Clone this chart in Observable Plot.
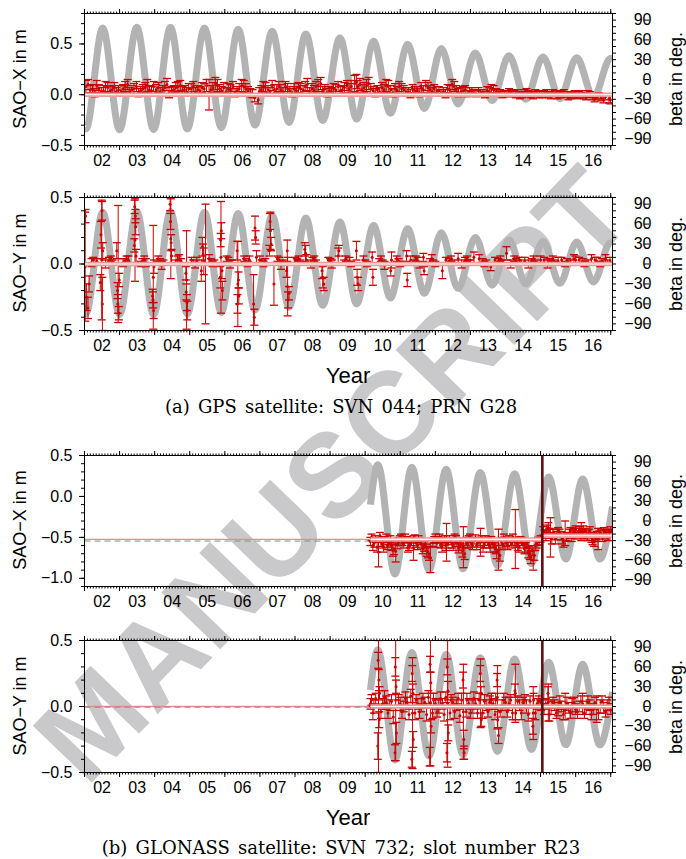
<!DOCTYPE html>
<html><head><meta charset="utf-8">
<script src="https://cdn.jsdelivr.net/npm/d3@7"></script>
<script src="https://cdn.jsdelivr.net/npm/@observablehq/plot@0.6"></script>
<style>
body{margin:0;background:#fff;}
#root{position:relative;width:686px;height:859px;overflow:hidden;font-family:'Liberation Sans',Arial,Helvetica,sans-serif;}
.panel{position:absolute;left:0;z-index:2;}
#wm{position:absolute;left:0;top:0;z-index:1;}
#lab{position:absolute;left:0;top:0;z-index:3;pointer-events:none;}
</style></head><body><div id="root">
<svg id="wm" width="686" height="859"><text x="332" y="474" transform="rotate(-46 332 474)" text-anchor="middle" dominant-baseline="central" style="font-family:'Liberation Sans',Arial,Helvetica,sans-serif;font-weight:bold;font-size:119px" fill="#c9c9cb">MANUSCRIPT</text></svg>
</div>
<script>
// ---------- tick labels ----------
const years = [2002,2003,2004,2005,2006,2007,2008,2009,2010,2011,2012,2013,2014,2015,2016,2017];
const yearLabels = ["02","03","04","05","06","07","08","09","10","11","12","13","14","15","16"];
const betaMajor = [-90,-60,-30,0,30,60,90];

// ---------- beta angle extremes (t, deg) ----------
const gpsBeta = [[2002.00,-74],[2002.04,-75],[2002.52,78],[2003.00,-76],[2003.49,79],[2003.97,-76],[2004.45,79],[2004.93,-75],[2005.42,78],[2005.90,-73],[2006.38,76],[2006.86,-69],[2007.35,73],[2007.83,-65],[2008.31,69],[2008.79,-62],[2009.28,63],[2009.76,-60],[2010.24,58],[2010.72,-51],[2011.21,53],[2011.69,-44],[2012.17,47],[2012.65,-37],[2013.14,40],[2013.62,-32],[2014.10,36],[2014.58,-30],[2015.07,34],[2015.55,-29],[2016.03,33],[2016.51,-27],[2016.99,32],[2017.05,31]];
const gloBeta = [[2010.15,25],[2010.36,86],[2010.85,-81],[2011.33,82],[2011.82,-75],[2012.31,79],[2012.79,-73],[2013.28,74],[2013.77,-68],[2014.26,72],[2014.74,-65],[2015.23,67],[2015.72,-58],[2016.20,64],[2016.69,-58],[2017.05,22]];

// ---------- SAO estimates [t, value m, sigma m] ----------
const gpsX = [
[2002.04,.08,.06],[2002.16,.05,.04],[2002.29,.02,.04],[2002.41,.06,.04],[2002.54,.04,.05],[2002.66,.07,.05],[2002.79,.05,.04],[2002.91,.03,.04],
[2003.04,.04,.05],[2003.16,.08,.05],[2003.29,.03,.04],[2003.41,.06,.05],[2003.54,.02,.04],[2003.66,.06,.04],[2003.79,.09,.06],[2003.91,.04,.04],
[2004.04,.05,.05],[2004.16,.03,.04],[2004.29,.07,.06],[2004.41,.02,.05],[2004.54,.05,.04],[2004.66,.08,.05],[2004.79,.04,.04],[2004.91,.03,.04],
[2005.04,.06,.05],[2005.16,.03,.04],[2005.29,.04,.04],[2005.41,.06,.05],[2005.55,.0,.15],[2005.66,.07,.05],[2005.79,.09,.06],[2005.91,.04,.04],
[2006.04,.03,.04],[2006.16,.05,.05],[2006.29,.02,.04],[2006.41,.06,.05],[2006.54,.08,.06],[2006.66,.04,.04],[2006.79,.01,.04],[2006.95,-.05,.04],
[2007.04,.05,.04],[2007.16,.07,.05],[2007.29,.03,.04],[2007.41,.05,.05],[2007.54,.08,.05],[2007.66,.03,.04],[2007.79,.06,.05],[2007.91,.02,.04],
[2008.04,.04,.04],[2008.16,.06,.05],[2008.29,.08,.05],[2008.41,.03,.04],[2008.54,.05,.04],[2008.66,.09,.06],[2008.79,.04,.04],[2008.91,.02,.04],
[2009.04,.03,.04],[2009.16,.05,.05],[2009.29,.04,.04],[2009.41,.07,.05],[2009.54,.06,.05],[2009.70,.11,.08],[2009.79,.08,.06],[2009.91,.05,.05],
[2010.04,.09,.06],[2010.16,.06,.05],[2010.29,.02,.04],[2010.41,.03,.04],[2010.54,.05,.05],[2010.66,.08,.06],[2010.79,.02,.04],[2010.91,.04,.04],
[2011.04,.06,.05],[2011.16,.03,.04],[2011.29,.01,.04],[2011.41,.04,.04],[2011.54,.02,.04],[2011.66,.05,.04],[2011.79,.07,.05],[2011.91,.03,.04],
[2012.04,.04,.04],[2012.16,.02,.03],[2012.29,.01,.04],[2012.41,.05,.04],[2012.54,.08,.05],[2012.66,.02,.04],[2012.79,.04,.04],[2012.91,.01,.03],
[2013.04,.03,.04],[2013.16,.01,.03],[2013.29,.02,.03],[2013.41,.0,.03],[2013.54,.03,.04],[2013.66,.05,.04],[2013.79,.02,.03],[2013.91,.0,.03],
[2014.04,.01,.03],[2014.16,.02,.03],[2014.29,.0,.03],[2014.41,-.01,.03],[2014.54,.02,.03],[2014.66,.01,.03],[2014.79,-.01,.03],[2014.91,.01,.03],
[2015.04,.0,.03],[2015.16,.02,.03],[2015.29,-.01,.03],[2015.41,.01,.03],[2015.54,.0,.03],[2015.66,.02,.03],[2015.79,-.02,.03],[2015.91,.0,.03],
[2016.04,-.01,.03],[2016.16,.01,.03],[2016.29,-.02,.03],[2016.41,.0,.03],[2016.54,-.03,.04],[2016.66,-.01,.03],[2016.79,-.04,.04],[2016.95,-.04,.04],
[2002.10,.10,.05],[2002.23,.06,.04],[2002.35,.09,.05],[2002.48,.03,.04],[2002.60,.08,.05],[2002.73,.04,.04],[2002.85,.07,.05],[2002.97,.05,.04],
[2003.10,.06,.04],[2003.23,.10,.05],[2003.35,.05,.04],[2003.48,.08,.05],[2003.60,.04,.04],[2003.73,.07,.05],[2003.85,.05,.04],[2003.97,.08,.05],
[2004.10,.07,.05],[2004.23,.05,.04],[2004.35,.10,.06],[2004.48,.04,.04],[2004.60,.07,.05],[2004.73,.09,.05],[2004.85,.05,.04],[2004.97,.06,.05],
[2005.10,.08,.05],[2005.23,.05,.04],[2005.35,.07,.05],[2005.48,.09,.06],[2005.60,.05,.04],[2005.73,.11,.06],[2005.85,.06,.04],[2005.97,.07,.05],
[2006.10,.06,.05],[2006.23,.08,.05],[2006.35,.04,.04],[2006.48,.09,.06],[2006.60,.06,.05],[2006.73,.02,.04],[2006.85,-.03,.04],[2006.98,.03,.04],
[2007.10,.08,.05],[2007.23,.05,.04],[2007.35,.09,.05],[2007.48,.06,.04],[2007.60,.05,.05],[2007.73,.08,.05],[2007.85,.04,.04],[2007.98,.06,.05],
[2008.10,.07,.05],[2008.23,.05,.04],[2008.35,.10,.06],[2008.48,.06,.05],[2008.60,.08,.05],[2008.73,.11,.06],[2008.85,.06,.04],[2008.98,.04,.04],
[2009.10,.06,.05],[2009.23,.08,.05],[2009.35,.05,.04],[2009.48,.09,.05],[2009.60,.08,.06],[2009.75,.13,.07],[2009.85,.10,.06],[2009.97,.07,.05],
[2010.10,.11,.06],[2010.23,.04,.04],[2010.35,.05,.04],[2010.48,.07,.05],[2010.60,.09,.06],[2010.73,.05,.04],[2010.85,.06,.05],[2010.97,.08,.05],
[2011.10,.05,.04],[2011.23,.03,.04],[2011.35,.06,.04],[2011.48,.04,.04],[2011.60,.07,.05],[2011.73,.09,.05],[2011.85,.05,.04],[2011.97,.06,.04],
[2012.10,.04,.04],[2012.23,.03,.04],[2012.35,.06,.04],[2012.48,.10,.05],[2012.60,.05,.04],[2012.73,.03,.04],[2012.85,.05,.04],[2012.97,.03,.04],
[2013.10,.02,.03],[2013.23,.04,.03],[2013.35,.02,.03],[2013.48,.04,.04],[2013.60,.06,.04],[2013.73,.03,.03],[2013.85,.02,.03],[2013.97,.01,.03],
[2014.10,.03,.03],[2014.23,.01,.03],[2014.35,.02,.03],[2014.48,.0,.03],[2014.60,.03,.03],[2014.73,.0,.03],[2014.85,.02,.03],[2014.97,.0,.03],
[2015.10,.01,.03],[2015.23,.0,.03],[2015.35,.02,.03],[2015.48,-.01,.03],[2015.60,.01,.03],[2015.73,.0,.03],[2015.85,-.01,.03],[2015.97,.01,.03],
[2016.10,.0,.03],[2016.23,-.01,.03],[2016.35,.01,.03],[2016.48,-.02,.03],[2016.60,-.02,.03],[2016.73,-.03,.03],[2016.85,-.02,.03],[2016.99,-.05,.04]
];
const gpsY = [
[2002.02,-.02,.41],[2002.03,.36,.05],[2002.06,-.25,.1],[2002.10,-.33,.08],[2002.13,-.15,.06],
[2002.49,.03,.45],[2002.47,.22,.1],[2002.50,.40,.07],[2002.52,.10,.06],[2002.45,-.14,.06],[2002.51,-.30,.2],
[2002.96,.0,.44],[2002.95,-.30,.07],[2002.98,-.37,.05],[2002.94,-.20,.06],[2002.99,-.12,.05],[2002.92,.10,.06],
[2003.44,.18,.31],[2003.43,.43,.05],[2003.45,.36,.05],[2003.46,.28,.06],[2003.42,.14,.05],[2003.47,.06,.05],
[2003.96,-.10,.39],[2003.95,-.27,.06],[2003.97,-.35,.06],[2003.98,-.02,.05],[2003.94,-.24,.05],
[2004.46,.19,.30],[2004.45,.32,.06],[2004.47,.16,.06],[2004.48,.06,.05],[2004.44,.45,.05],
[2004.91,-.12,.37],[2004.90,-.21,.06],[2004.92,-.29,.06],[2004.93,-.35,.07],[2004.89,-.07,.05],
[2005.36,.13,.07],[2005.38,.07,.08],[2005.40,.02,.1],[2005.33,-.05,.08],[2005.45,.0,.45],
[2005.89,.05,.42],[2005.90,.25,.06],[2005.88,.18,.05],[2005.92,-.05,.06],[2005.87,-.10,.08],[2005.93,-.20,.07],
[2006.37,-.15,.32],[2006.36,-.30,.07],[2006.39,-.12,.06],[2006.40,-.24,.06],[2006.35,.10,.07],
[2006.82,-.30,.22],[2006.86,.27,.09],[2006.88,.20,.05],[2006.84,-.40,.06],[2006.90,.05,.05],
[2007.30,.25,.14],[2007.29,.32,.06],[2007.32,.15,.05],[2007.27,.10,.04],[2007.40,-.15,.16],
[2007.79,-.17,.22],[2007.80,-.27,.06],[2007.83,-.22,.05],[2007.78,.10,.08],[2007.76,-.05,.05],
[2008.30,.08,.06],[2008.32,.03,.04],[2008.28,.11,.05],
[2008.79,-.10,.08],[2008.82,-.15,.05],[2008.77,-.05,.06],
[2009.23,.06,.06],[2009.25,.10,.04],
[2009.75,.10,.07],[2009.77,-.10,.06],[2009.80,-.15,.05],
[2010.22,-.10,.06],[2010.20,.05,.04],
[2010.75,.03,.06],[2010.73,-.05,.04],
[2011.18,.06,.04],[2011.20,-.12,.05],
[2011.66,.05,.03],[2011.68,-.05,.03],
[2012.20,-.05,.06],[2012.65,.04,.04],
[2013.10,.05,.04],[2013.58,-.02,.03],
[2014.03,.08,.05],[2014.55,.02,.03],[2015.00,.03,.03],[2015.50,.02,.03],[2016.00,.03,.03],[2016.60,.02,.03],
[2002.20,.01,.03],[2002.35,.02,.02],[2002.70,.02,.03],[2002.80,.01,.02],[2003.15,.02,.02],[2003.25,.03,.03],[2003.65,.02,.02],[2003.75,.01,.03],
[2004.15,.02,.02],[2004.25,.01,.02],[2004.65,.03,.03],[2004.75,.02,.02],[2005.10,.01,.02],[2005.20,.02,.03],[2005.60,.02,.02],[2005.70,.01,.02],
[2006.10,.02,.03],[2006.20,.01,.02],[2006.60,.02,.02],[2006.70,.03,.03],[2007.05,.01,.02],[2007.15,.02,.02],[2007.55,.02,.03],[2007.65,.01,.02],
[2008.05,.02,.02],[2008.15,.01,.02],[2008.50,.02,.03],[2008.60,.01,.02],[2009.00,.02,.02],[2009.40,.01,.02],[2009.55,.02,.03],[2010.00,.01,.02],
[2010.40,.02,.02],[2010.50,.01,.02],[2010.95,.02,.02],[2011.40,.01,.02],[2011.50,.02,.03],[2011.85,.02,.02],[2011.95,.01,.02],[2012.40,.02,.02],
[2012.55,.01,.02],[2012.85,.02,.03],[2012.95,.01,.02],[2013.35,.02,.02],[2013.45,.01,.02],[2013.80,.02,.02],[2013.90,.01,.02],[2014.30,.02,.02],
[2014.45,.01,.02],[2014.75,.02,.02],[2014.85,.01,.02],[2015.25,.02,.02],[2015.40,.01,.02],[2015.75,.02,.02],[2015.85,.01,.02],[2016.20,.02,.02],
[2016.35,.01,.02],[2016.75,.02,.02],[2016.90,.01,.02],
[2002.25,.03,.02],[2002.60,.0,.03],[2002.75,.04,.02],[2003.10,.01,.03],[2003.20,.04,.02],[2003.60,.0,.02],[2003.70,.03,.03],[2004.10,.04,.02],
[2004.20,-.01,.03],[2004.60,.01,.02],[2004.70,.04,.03],[2005.05,.03,.02],[2005.15,-.01,.02],[2005.55,.04,.03],[2005.65,.0,.02],[2006.05,.04,.02],
[2006.15,.0,.03],[2006.55,.04,.02],[2006.65,.0,.02],[2007.00,.03,.03],[2007.10,.0,.02],[2007.50,.04,.02],[2007.60,-.01,.03],[2008.00,.03,.02],
[2008.10,.04,.02],[2008.45,.0,.03],[2008.55,.04,.02],[2008.95,.03,.02],[2009.05,.0,.03],[2009.45,.04,.02],[2009.60,.0,.02],[2009.95,.03,.03],
[2010.05,.0,.02],[2010.45,.04,.02],[2010.55,-.01,.03],[2010.90,.04,.02],[2011.00,.0,.02],[2011.30,.03,.03],[2011.45,.04,.02],[2011.55,-.01,.02],
[2011.90,.04,.03],[2012.00,.0,.02],[2012.30,.03,.02],[2012.45,.04,.02],[2012.75,.0,.03],[2012.90,.04,.02],[2013.00,.01,.02],[2013.25,.04,.03],
[2013.40,.0,.02],[2013.70,.03,.02],[2013.85,.04,.02],[2014.15,.0,.03],[2014.25,.04,.02],[2014.40,.03,.02],[2014.65,.0,.03],[2014.80,.04,.02],
[2015.10,.03,.02],[2015.20,.0,.03],[2015.35,.04,.02],[2015.60,.03,.02],[2015.70,.0,.02],[2015.95,.04,.03],[2016.10,.03,.02],[2016.25,.0,.02],
[2016.45,.04,.03],[2016.55,.03,.02],[2016.70,.0,.02],[2016.85,.04,.03],[2016.98,.02,.03]
];
const gloX = [
[2010.15,-.55,.05],[2010.22,-.60,.06],[2010.30,-.52,.04],[2010.38,-.68,.18],[2010.45,-.56,.05],[2010.52,-.62,.06],[2010.60,-.50,.04],[2010.68,-.57,.05],
[2010.75,-.60,.06],[2010.82,-.64,.07],[2010.87,-.67,.13],[2010.95,-.55,.05],[2011.02,-.50,.04],[2011.10,-.58,.05],[2011.18,-.53,.04],[2011.25,-.60,.06],
[2011.32,-.55,.05],[2011.38,-.63,.15],[2011.45,-.57,.05],[2011.52,-.52,.04],[2011.60,-.58,.05],[2011.68,-.61,.06],[2011.75,-.66,.07],[2011.82,-.70,.08],
[2011.86,-.75,.18],[2011.93,-.56,.05],[2012.00,-.50,.04],[2012.08,-.53,.04],[2012.15,-.58,.05],[2012.22,-.55,.05],[2012.30,-.60,.06],[2012.32,-.56,.23],
[2012.40,-.52,.04],[2012.48,-.58,.05],[2012.55,-.50,.04],[2012.62,-.56,.05],[2012.70,-.60,.06],[2012.77,-.66,.08],[2012.80,-.62,.25],[2012.88,-.55,.05],
[2012.95,-.52,.04],[2013.02,-.57,.05],[2013.10,-.54,.04],[2013.18,-.60,.05],[2013.25,-.55,.05],[2013.29,-.56,.17],[2013.36,-.62,.06],[2013.44,-.52,.04],
[2013.52,-.58,.05],[2013.60,-.54,.05],[2013.68,-.62,.06],[2013.75,-.68,.08],[2013.80,-.65,.25],[2013.88,-.55,.05],[2013.95,-.50,.04],[2014.02,-.56,.05],
[2014.10,-.52,.04],[2014.18,-.58,.05],[2014.25,-.55,.05],[2014.28,-.52,.36],[2014.35,-.60,.06],[2014.42,-.53,.04],[2014.50,-.58,.05],[2014.58,-.62,.06],
[2014.65,-.68,.07],[2014.72,-.74,.08],[2014.79,-.78,.12],[2014.85,-.60,.06],[2014.92,-.55,.05],[2015.00,-.52,.04],
[2015.08,-.42,.05],[2015.15,-.48,.06],[2015.22,-.38,.06],[2015.28,-.50,.24],[2015.35,-.45,.05],[2015.42,-.52,.06],[2015.50,-.42,.04],[2015.58,-.48,.05],
[2015.65,-.55,.07],[2015.70,-.45,.15],[2015.78,-.50,.05],[2015.85,-.42,.04],[2015.92,-.46,.05],[2016.00,-.40,.04],[2016.08,-.44,.05],[2016.16,-.43,.11],
[2016.22,-.40,.04],[2016.30,-.47,.05],[2016.38,-.44,.04],[2016.45,-.50,.06],[2016.52,-.55,.06],[2016.60,-.48,.05],[2016.64,-.52,.13],[2016.72,-.45,.05],
[2016.80,-.42,.04],[2016.88,-.47,.05],[2016.95,-.44,.04],[2017.00,-.42,.05],
[2010.18,-.50,.04],[2010.26,-.57,.05],[2010.34,-.62,.06],[2010.42,-.48,.04],[2010.49,-.58,.05],[2010.56,-.54,.05],[2010.64,-.60,.05],[2010.72,-.52,.04],
[2010.79,-.66,.07],[2010.91,-.59,.05],[2010.99,-.53,.05],[2011.06,-.56,.04],[2011.14,-.50,.04],[2011.22,-.62,.06],[2011.29,-.58,.05],[2011.42,-.52,.05],
[2011.49,-.60,.05],[2011.56,-.55,.04],[2011.64,-.64,.06],[2011.72,-.58,.05],[2011.79,-.68,.07],[2011.97,-.53,.04],[2012.04,-.57,.05],[2012.12,-.50,.04],
[2012.19,-.62,.06],[2012.26,-.53,.05],[2012.36,-.58,.05],[2012.44,-.55,.04],[2012.51,-.61,.05],[2012.59,-.53,.05],[2012.66,-.63,.06],[2012.74,-.57,.05],
[2012.84,-.70,.07],[2012.92,-.58,.05],[2012.99,-.50,.04],[2013.06,-.60,.05],[2013.14,-.51,.04],[2013.21,-.57,.05],[2013.33,-.52,.04],[2013.40,-.58,.05],
[2013.48,-.55,.05],[2013.56,-.62,.06],[2013.64,-.57,.05],[2013.72,-.64,.06],[2013.84,-.72,.07],[2013.92,-.58,.05],[2013.99,-.54,.04],[2014.06,-.60,.05],
[2014.14,-.55,.05],[2014.21,-.50,.04],[2014.32,-.57,.05],[2014.38,-.62,.06],[2014.46,-.55,.05],[2014.54,-.64,.06],[2014.62,-.58,.05],[2014.69,-.70,.07],
[2014.76,-.66,.06],[2014.82,-.72,.06],[2014.89,-.58,.05],[2014.96,-.55,.04],
[2015.11,-.46,.05],[2015.18,-.40,.05],[2015.25,-.45,.06],[2015.32,-.52,.06],[2015.38,-.44,.04],[2015.46,-.48,.05],[2015.54,-.45,.05],[2015.62,-.52,.06],
[2015.74,-.49,.05],[2015.82,-.45,.05],[2015.89,-.50,.05],[2015.96,-.43,.04],[2016.04,-.47,.05],[2016.12,-.41,.04],[2016.19,-.46,.05],[2016.26,-.43,.04],
[2016.34,-.49,.05],[2016.41,-.41,.04],[2016.48,-.53,.06],[2016.56,-.50,.05],[2016.68,-.47,.05],[2016.76,-.50,.05],[2016.84,-.44,.04],[2016.92,-.49,.05],[2016.98,-.46,.04]
];
const gloY = [
[2010.38,.0,.5],[2010.37,.35,.06],[2010.39,.2,.08],[2010.40,-.1,.06],[2010.36,-.3,.1],[2010.41,.1,.05],
[2010.87,.05,.46],[2010.86,.3,.07],[2010.88,.15,.05],[2010.89,-.2,.08],[2010.85,-.35,.06],
[2011.35,-.05,.42],[2011.34,.25,.06],[2011.36,.1,.07],[2011.37,-.25,.06],[2011.33,-.4,.06],
[2011.86,.03,.48],[2011.85,.32,.06],[2011.87,.18,.08],[2011.88,-.15,.05],[2011.84,-.38,.07],
[2012.35,.02,.48],[2012.34,.3,.06],[2012.36,.12,.07],[2012.37,-.2,.06],[2012.33,-.35,.07],
[2012.80,-.04,.36],[2012.79,.2,.06],[2012.81,-.25,.07],[2012.82,-.35,.05],
[2013.29,.10,.26],[2013.28,.25,.06],[2013.30,.1,.05],[2013.31,-.1,.05],
[2013.77,.07,.24],[2013.76,.2,.05],[2013.78,-.1,.06],[2013.80,-.22,.06],
[2014.28,.10,.22],[2014.27,.12,.05],[2014.29,-.05,.05],
[2014.79,-.05,.2],[2014.78,-.15,.06],[2014.80,.05,.05],
[2015.22,.03,.14],[2015.21,.1,.05],
[2015.70,.0,.1],[2016.20,.02,.08],[2016.60,-.02,.1],
[2010.15,.02,.04],[2010.25,.0,.05],[2010.50,.02,.04],[2010.60,.03,.05],[2010.70,.01,.04],[2011.00,.02,.05],[2011.10,.0,.04],[2011.20,.03,.04],
[2011.50,.02,.04],[2011.60,.01,.05],[2011.70,.03,.04],[2012.00,.02,.04],[2012.10,.0,.05],[2012.20,.02,.04],[2012.50,.03,.04],[2012.60,.01,.04],
[2012.95,.02,.04],[2013.05,.0,.05],[2013.15,.02,.04],[2013.45,.01,.04],[2013.55,.03,.05],[2013.65,.02,.04],[2013.90,.01,.04],[2014.00,.03,.04],
[2014.10,.02,.05],[2014.40,.01,.04],[2014.50,.03,.04],[2014.60,.0,.05],[2014.90,.02,.04],[2015.00,.01,.04],
[2015.10,-.02,.04],[2015.30,-.01,.05],[2015.40,.01,.04],[2015.50,-.02,.05],[2015.60,.0,.04],[2015.80,-.01,.04],[2015.90,.01,.05],[2016.00,-.02,.04],
[2016.10,.0,.04],[2016.30,-.01,.05],[2016.40,.01,.04],[2016.50,-.02,.04],[2016.70,.0,.05],[2016.80,-.01,.04],[2016.90,.01,.04],[2017.00,-.02,.04],
[2010.18,.05,.04],[2010.22,-.05,.05],[2010.30,.06,.04],[2010.45,-.04,.05],[2010.55,.07,.05],[2010.65,-.05,.04],[2010.75,.04,.05],[2010.80,-.08,.05],
[2010.95,.05,.04],[2011.05,-.04,.05],[2011.15,.06,.05],[2011.25,-.06,.04],[2011.30,.08,.05],[2011.42,-.05,.05],[2011.45,.05,.04],[2011.55,-.04,.05],
[2011.65,.06,.04],[2011.75,-.06,.05],[2011.80,.07,.05],[2011.92,-.05,.04],[2011.95,.05,.05],[2012.05,-.04,.04],[2012.15,.06,.05],[2012.25,-.06,.05],
[2012.30,.07,.04],[2012.42,-.05,.05],[2012.45,.05,.04],[2012.55,-.04,.05],[2012.65,.06,.04],[2012.70,-.07,.05],[2012.75,.05,.05],[2012.88,-.04,.04],
[2012.90,.05,.05],[2013.00,-.05,.04],[2013.10,.06,.05],[2013.20,-.05,.04],[2013.25,.05,.05],[2013.35,-.05,.04],[2013.40,.04,.05],[2013.50,-.04,.04],
[2013.60,.05,.05],[2013.70,-.06,.04],[2013.72,.05,.05],[2013.85,-.04,.04],[2013.95,.05,.05],[2014.05,-.04,.04],[2014.15,.05,.04],[2014.20,-.05,.05],
[2014.35,.04,.04],[2014.45,-.05,.05],[2014.55,.05,.04],[2014.65,-.06,.05],[2014.70,.04,.04],[2014.85,-.05,.05],[2014.95,.04,.04],
[2015.15,.02,.04],[2015.25,-.06,.05],[2015.35,.03,.04],[2015.45,-.05,.04],[2015.55,.03,.05],[2015.65,-.06,.04],[2015.75,.02,.05],[2015.85,-.05,.04],
[2015.95,.03,.04],[2016.05,-.04,.05],[2016.15,.04,.04],[2016.25,-.05,.04],[2016.35,.03,.05],[2016.45,-.06,.04],[2016.55,.03,.04],[2016.65,-.05,.05],
[2016.75,.04,.04],[2016.85,-.04,.04],[2016.95,.02,.05]
];

// ---------- mean levels [x1, x2, y] ----------
const gpsXMean = [[2002,2017.05,0.0]];
const gpsXDash = [[2002,2017.05,-0.005]];
const gpsYMean = [[2002,2017.05,0.0]];
const gpsYDash = [[2002,2017.05,-0.004]];
const gloXMean = [[2002,2015.05,-0.525],[2015.05,2017.05,-0.48]];
const gloXDash = [[2002,2015.05,-0.545]];
const gloXBand = [[2010.15,2015.05,-0.525],[2015.05,2017.05,-0.48]];
const gloYMean = [[2002,2015.05,0.0],[2015.05,2017.05,0.0]];
const gloYDash = [[2002,2015.05,-0.005]];
const gloYBand = [[2010.15,2015.05,0.0],[2015.05,2017.05,0.0]];
const switchEpoch = [2015.05];

// ---------- drawing ----------
const RED = "#cc0000";
const FONT = "'Liberation Sans', Arial, Helvetica, sans-serif";
const capSym = {draw(ctx){ ctx.moveTo(-4,0); ctx.lineTo(4,0); }};
const f1 = d3.format(".1f"), fd = d3.format("d");

function panel(o){
  const [lo,hi] = o.dom;
  const toL = b => lo + (b + 100) / 200 * (hi - lo);
  const fromL = v => (v - lo) / (hi - lo) * 200 - 100;
  const minorL = d3.range(Math.ceil(lo*10-1e-9), Math.floor(hi*10+1e-9)+1).map(i => i/10);
  const months = d3.range(2002*12, 2017*12+1).map(m => m/12);
  const X = d => d[0];
  const seg = (arr, opts) => Plot.link(arr, {x1: d=>d[0], x2: d=>d[1], y1: d=>d[2], y2: d=>d[2], ...opts});
  const marks = [
    Plot.line(o.beta, {x: X, y: d => toL(d[1]), curve: "monotone-x", stroke: "#b3b3b3", strokeWidth: 7, strokeLinecap: "butt", clip: true}),
    seg(o.mean, {stroke: "#ea8c8c", strokeWidth: 1.3}),
    seg(o.dash, {stroke: "#8a8a8a", strokeWidth: 1, strokeDasharray: "6,4"}),
    Plot.ruleX(o.data, {x: X, y1: d => d[1]-d[2], y2: d => d[1]+d[2], stroke: RED, strokeWidth: 1, clip: true}),
    Plot.dot(o.data, {x: X, y: d => d[1]+d[2], symbol: capSym, fill: "none", stroke: RED, strokeWidth: 1.3, clip: true}),
    Plot.dot(o.data, {x: X, y: d => d[1]-d[2], symbol: capSym, fill: "none", stroke: RED, strokeWidth: 1.3, clip: true}),
    Plot.dot(o.data, {x: X, y: d => d[1], r: 1.5, fill: RED, stroke: "none", clip: true}),
    seg(o.band, {stroke: "#f09a9a", strokeWidth: 4.5}),
    seg(o.band, {stroke: "#ffffff", strokeWidth: 1.2})
  ];
  if (o.vline) marks.push(Plot.ruleX(o.vline, {stroke: "#5e1010", strokeWidth: 2.6}));
  marks.push(
    Plot.frame({stroke: "black", strokeWidth: 1}),
    Plot.axisY(o.majors, {anchor: "left", tickSize: 5, tickPadding: 7, tickFormat: f1, label: null}),
    Plot.axisY(minorL, {anchor: "left", tickSize: 3, tickFormat: () => "", label: null}),
    Plot.axisY(betaMajor.map(toL), {anchor: "right", tickSize: 5, tickPadding: 3, textAnchor: "end", dx: 31, tickFormat: v => fd(Math.round(fromL(v))), label: null}),
    Plot.axisY(d3.range(-100, 101, 10).map(toL), {anchor: "right", tickSize: 3, tickFormat: () => "", label: null}),
    Plot.axisX(years, {anchor: "bottom", tickSize: 5, tickFormat: () => "", label: null}),
    Plot.axisX(months, {anchor: "bottom", tickSize: 2.5, tickFormat: () => "", label: null}),
    Plot.axisX(years.slice(0, 15).map(y => y + 0.5), {anchor: "bottom", tickSize: 0, tickPadding: 9, tickFormat: d => yearLabels[years.indexOf(Math.floor(d))], label: null}),
    Plot.axisX(years, {anchor: "top", tickSize: 5, tickFormat: () => "", label: null}),
    Plot.axisX(months, {anchor: "top", tickSize: 2.5, tickFormat: () => "", label: null})
  );
  const svg = Plot.plot({
    width: 686, height: 176, marginLeft: 84, marginRight: 74, marginTop: 13, marginBottom: 176 - 13 - o.ph,
    x: {domain: [2002, 2017.05], axis: null}, y: {domain: [lo, hi], axis: null},
    style: {background: "transparent", fontFamily: FONT, fontSize: "16px", color: "black", overflow: "visible"},
    marks
  });
  svg.classList.add("panel");
  svg.style.top = o.top + "px";
  svg.style.position = "absolute";
  return svg;
}

const root = document.getElementById("root");
root.appendChild(panel({top: 0, ph: 132, dom: [-0.5, 0.8], majors: [-0.5, 0, 0.5], beta: gpsBeta, data: gpsX, mean: gpsXMean, dash: gpsXDash, band: gpsXMean}));
root.appendChild(panel({top: 184, ph: 133, dom: [-0.5, 0.5], majors: [-0.5, 0, 0.5], beta: gpsBeta, data: gpsY, mean: gpsYMean, dash: gpsYDash, band: gpsYMean}));
root.appendChild(panel({top: 442, ph: 131, dom: [-1.1, 0.5], majors: [-1, -0.5, 0, 0.5], beta: gloBeta, data: gloX, mean: gloXMean, dash: gloXDash, band: gloXBand, vline: switchEpoch}));
root.appendChild(panel({top: 627, ph: 132, dom: [-0.5, 0.5], majors: [-0.5, 0, 0.5], beta: gloBeta, data: gloY, mean: gloYMean, dash: gloYDash, band: gloYBand, vline: switchEpoch}));

// ---------- labels ----------
const NS = "http://www.w3.org/2000/svg";
const lab = document.createElementNS(NS, "svg");
lab.setAttribute("id", "lab"); lab.setAttribute("width", 686); lab.setAttribute("height", 859);
root.appendChild(lab);
function txt(s, x, y, opts) {
  const t = document.createElementNS(NS, "text");
  t.textContent = s;
  t.setAttribute("x", x); t.setAttribute("y", y);
  t.setAttribute("text-anchor", "middle");
  t.setAttribute("dominant-baseline", "central");
  t.setAttribute("style", `font-family:${opts.ff || FONT};font-size:${opts.fs}px;${opts.extra || ""}`);
  if (opts.rot) t.setAttribute("transform", `rotate(${opts.rot} ${x} ${y})`);
  lab.appendChild(t);
}
const leftLabels = [["SAO\u2212X in m", 79], ["SAO\u2212Y in m", 263], ["SAO\u2212X in m", 520], ["SAO\u2212Y in m", 706]];
const rightLabelY = [79, 264, 521, 707];
leftLabels.forEach(([s, y]) => txt(s, 20, y, {fs: 18, rot: -90}));
rightLabelY.forEach(y => txt("beta in deg.", 676, y, {fs: 18, rot: -90}));
txt("Year", 348, 375, {fs: 22});
txt("Year", 348, 817, {fs: 22});
const SERIF = "'DejaVu Serif', serif";
txt("(a) GPS satellite: SVN 044; PRN G28", 341, 406, {fs: 18, ff: SERIF, extra: "word-spacing:2.5px;"});
txt("(b) GLONASS satellite: SVN 732; slot number R23", 341, 847, {fs: 18, ff: SERIF, extra: "word-spacing:2.5px;"});
</script></body></html>
